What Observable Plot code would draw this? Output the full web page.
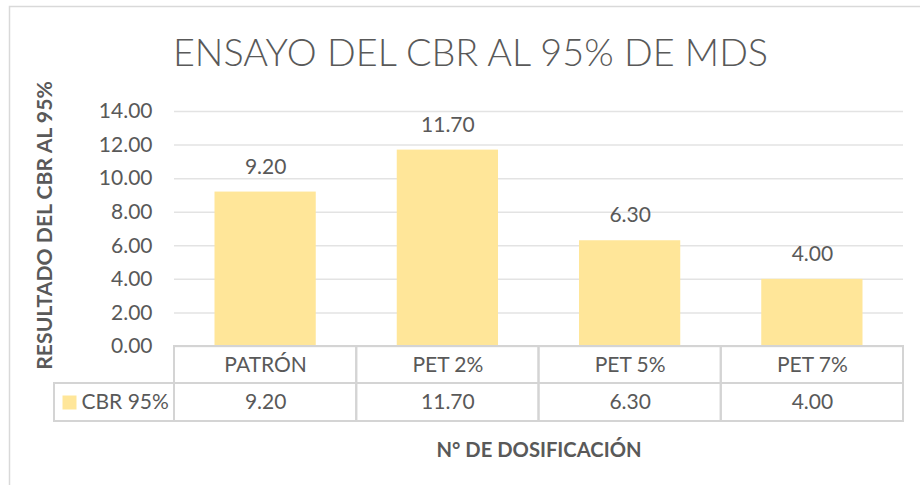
<!DOCTYPE html>
<html><head><meta charset="utf-8">
<script src="https://cdn.jsdelivr.net/npm/d3@7"></script>
<script src="https://cdn.jsdelivr.net/npm/@observablehq/plot@0.6"></script>
<style>body{margin:0;background:#fff}</style>
</head><body><div id="chart"></div>
<script>
const categories = ["PATRÓN", "PET 2%", "PET 5%", "PET 7%"];
const cbr95 = [9.20, 11.70, 6.30, 4.00];
const yTicks = [0, 2, 4, 6, 8, 10, 12, 14];
const seriesName = "CBR 95%";
const title = "ENSAYO DEL CBR AL 95% DE MDS";
const yTitle = "RESULTADO DEL CBR AL 95%";
const xTitle = "N° DE DOSIFICACIÓN";

const W = 920, H = 485, mL = 174, mR = 17, mT = 111, mB = 139;
const data = categories.map((c, i) => ({cat: c, v: cbr95[i]}));
const pxPerUnit = (H - mT - mB) / 14;
const row1 = 37 / pxPerUnit, row2 = 38 / pxPerUnit;
const band = (W - mL - mR) / categories.length;
const fmt = d3.format(".2f");
const grey = "#595959", lineC = "#d4d4d4", barC = "#FFE699";
const cx0 = mL + band / 2;

const chart = Plot.plot({
  width: W, height: H,
  marginLeft: mL, marginRight: mR, marginTop: mT, marginBottom: mB,
  x: {domain: categories, padding: 0, round: false, axis: null},
  y: {domain: [0, 14]},
  style: {fontFamily: "Lato", background: "white", color: grey},
  marks: [
    Plot.frame({stroke: "#d9d9d9", strokeWidth: 1.5, insetLeft: -(mL - 9), insetTop: -(mT - 6), insetRight: -40, insetBottom: -160}),
    Plot.gridY(yTicks, {stroke: "#e3e3e3", strokeOpacity: 1, strokeWidth: 1.5}),
    Plot.axisY({ticks: yTicks, tickSize: 0, tickPadding: 22, tickFormat: fmt, fontSize: 21, fill: grey, label: null}),
    Plot.barY(data, {x: "cat", y: "v", fill: barC, insetLeft: 40.5, insetRight: 40.5}),
    Plot.text(data, {x: "cat", y: "v", text: d => fmt(d.v), dy: -25, fontSize: 21, fill: grey}),
    Plot.barY(data, {x: "cat", y1: 0, y2: -row1, fill: "none", stroke: lineC, strokeWidth: 2}),
    Plot.barY(data, {x: "cat", y1: -row1, y2: -row1 - row2, fill: "none", stroke: lineC, strokeWidth: 2}),
    Plot.barY([seriesName], {x: () => categories[0], y1: -row1, y2: -row1 - row2, insetLeft: -120, insetRight: band, fill: "none", stroke: lineC, strokeWidth: 2}),
    Plot.text(data, {x: "cat", y: -row1 / 2, text: "cat", fontSize: 21, fill: grey}),
    Plot.text(data, {x: "cat", y: -row1 - row2 / 2, text: d => fmt(d.v), fontSize: 21, fill: grey}),
    Plot.dot([seriesName], {x: () => categories[0], y: -row1 - row2 / 2, symbol: "square", r: 7.9, fill: barC, stroke: null, dx: 69 - cx0}),
    Plot.text([seriesName], {x: () => categories[0], y: -row1 - row2 / 2, text: d => d, textAnchor: "start", dx: 81 - cx0, fontSize: 21, fill: grey}),
    Plot.text([xTitle], {frameAnchor: "bottom", lineAnchor: "middle", textAnchor: "middle", text: d => d, dy: 450 - (H - mB), fontSize: 20.2, fontWeight: "bold", fill: grey}),
    Plot.text([yTitle], {frameAnchor: "left", lineAnchor: "middle", textAnchor: "middle", text: d => d, rotate: -90, dx: 45 - mL, dy: 225 - (mT + (H - mT - mB) / 2), fontSize: 21.2, fontWeight: "bold", fill: grey}),
    Plot.text([title], {frameAnchor: "top", lineAnchor: "middle", textAnchor: "middle", text: d => d, dx: 470 - (mL + (W - mL - mR) / 2), dy: 53 - mT, fontSize: 37.8, fontWeight: 300, fill: grey})
  ]
});
document.getElementById("chart").appendChild(chart);
</script>
</body></html>
